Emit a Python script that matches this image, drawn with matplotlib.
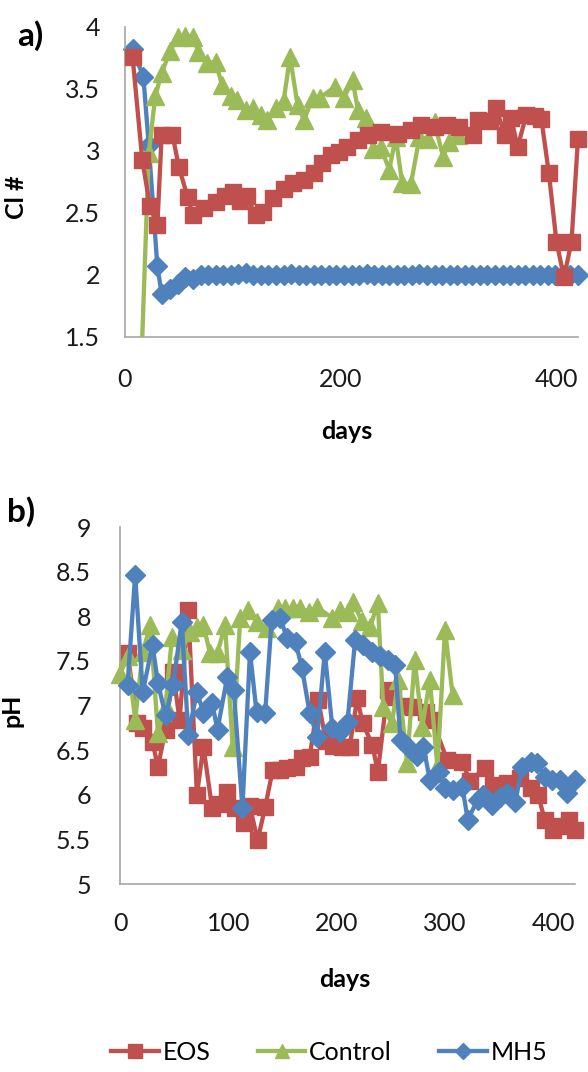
import matplotlib
matplotlib.use("Agg")
import matplotlib.pyplot as plt

plt.rcParams["font.family"] = ["Lato", "DejaVu Sans"]

# colours (Excel 2007 palette)
red = "#C0504D"
green = "#9BBB59"
blue = "#4F81BD"

# ---- panel a) Cl # ----
a_eos_days = [7, 16, 23, 30, 34, 44, 50, 58, 63, 73, 84, 93, 100, 107, 113, 121, 128, 137,
              147, 156, 166, 175, 183, 191, 198, 206, 216, 225, 237, 253, 265, 274, 287,
              299, 310, 323, 327, 338, 344, 352, 358, 364, 372, 380, 386, 393, 400, 407,
              414, 420]
a_eos_cl = [3.76, 2.93, 2.56, 2.40, 3.13, 3.13, 2.87, 2.63, 2.48, 2.54, 2.59, 2.64, 2.67,
            2.60, 2.64, 2.48, 2.51, 2.62, 2.69, 2.74, 2.77, 2.82, 2.90, 2.97, 2.99, 3.03,
            3.09, 3.13, 3.15, 3.14, 3.17, 3.21, 3.19, 3.21, 3.19, 3.13, 3.25, 3.24, 3.35,
            3.13, 3.27, 3.03, 3.29, 3.28, 3.26, 2.82, 2.27, 1.98, 2.27, 3.10]

a_ctrl_days = [14, 22, 28, 34, 42, 49, 56, 63, 68, 76, 84, 90, 98, 104, 112, 119, 126, 132,
               140, 147, 153, 160, 166, 174, 181, 195, 203, 211, 216, 223, 230, 237, 245,
               251, 257, 265, 273, 281, 287, 295, 300, 309]
a_ctrl_cl = [1.0, 2.98, 3.44, 3.63, 3.81, 3.92, 3.93, 3.92, 3.80, 3.71, 3.72, 3.53, 3.44,
             3.41, 3.33, 3.35, 3.29, 3.25, 3.35, 3.40, 3.76, 3.37, 3.25, 3.43, 3.43, 3.52,
             3.43, 3.57, 3.33, 3.27, 3.02, 3.03, 2.85, 3.11, 2.74, 2.73, 3.11, 3.10, 3.23,
             2.95, 3.07, 3.13]

a_mh5_days = [7, 17, 22, 30, 34, 42, 49, 56, 63, 70, 77, 84, 91, 98, 105, 112, 119, 126,
              133, 140, 147, 154, 161, 168, 175, 182, 189, 196, 203, 210, 217, 224, 231,
              238, 245, 252, 259, 266, 273, 280, 287, 294, 301, 308, 315, 322, 329, 336,
              343, 350, 357, 364, 371, 378, 385, 392, 399, 406, 413, 420]
a_mh5_cl = [3.82, 3.60, 3.05, 2.07, 1.85, 1.89, 1.93, 1.98, 1.97, 2.00, 2.00, 2.00, 2.00,
            2.00, 2.01, 2.02, 2.00, 2.00, 2.00, 2.00, 2.00, 2.01, 2.00, 2.00, 2.00, 2.00,
            2.00, 2.00, 2.00, 2.00, 2.00, 2.01, 2.00, 2.00, 2.00, 2.00, 2.00, 2.00, 2.01,
            2.00, 2.00, 2.00, 2.00, 2.00, 2.00, 2.00, 2.00, 2.00, 2.00, 2.00, 2.00, 2.00,
            2.00, 2.00, 2.00, 2.00, 2.00, 2.00, 2.00, 2.00]

# ---- panel b) pH ----
b_eos_days = [7, 16, 21, 30, 35, 42, 49, 55, 63, 71, 77, 85, 91, 99, 106, 114, 120, 127,
              134, 141, 148, 154, 162, 168, 175, 183, 190, 197, 205, 212, 219, 224, 233,
              238, 247, 252, 263, 270, 282, 288, 302, 316, 323, 337, 344, 357, 369, 379,
              386, 392, 400, 406, 414, 420]
b_eos_ph = [7.59, 6.80, 6.75, 6.59, 6.31, 6.73, 7.37, 6.84, 8.07, 6.00, 6.54, 5.85, 5.90,
            6.03, 5.85, 5.68, 5.87, 5.49, 5.86, 6.28, 6.28, 6.30, 6.31, 6.41, 6.42, 7.06,
            6.60, 6.55, 6.53, 6.54, 7.08, 6.80, 6.56, 6.25, 7.17, 7.10, 7.00, 6.98, 6.93,
            6.84, 6.39, 6.37, 6.15, 6.30, 6.11, 6.13, 6.19, 6.08, 6.00, 5.72, 5.61, 5.65,
            5.72, 5.61]

b_ctrl_days = [0, 7, 14, 21, 28, 35, 42, 48, 57, 65, 71, 77, 83, 90, 97, 104, 111, 118,
               126, 136, 146, 152, 160, 166, 174, 182, 196, 203, 210, 215, 223, 231, 238,
               243, 251, 257, 265, 272, 279, 286, 293, 300, 307]
b_ctrl_ph = [7.35, 7.55, 6.84, 7.60, 7.90, 6.69, 7.00, 7.77, 7.62, 7.82, 7.88, 7.90, 7.59,
             7.59, 7.90, 6.54, 7.98, 8.07, 7.94, 7.87, 8.09, 8.09, 8.09, 8.09, 8.05, 8.10,
             7.98, 8.07, 8.05, 8.16, 7.95, 7.88, 8.15, 6.98, 6.80, 7.29, 6.36, 7.51, 6.76,
             7.29, 6.31, 7.85, 7.12]

b_mh5_days = [7, 14, 21, 30, 35, 42, 49, 57, 63, 71, 77, 85, 90, 99, 105, 113, 120, 126,
              134, 140, 148, 154, 162, 168, 175, 182, 189, 196, 203, 210, 217, 224, 233,
              240, 247, 254, 259, 266, 274, 280, 286, 294, 300, 307, 316, 321, 330, 335,
              343, 351, 357, 365, 371, 379, 385, 392, 399, 406, 413, 420]
b_mh5_ph = [7.23, 8.46, 7.15, 7.68, 7.25, 6.89, 7.23, 7.94, 6.67, 7.15, 6.92, 7.03, 6.73,
            7.32, 7.17, 5.85, 7.60, 6.93, 6.92, 7.96, 7.98, 7.76, 7.71, 7.42, 6.92, 6.65,
            7.60, 6.75, 6.70, 6.82, 7.73, 7.68, 7.60, 7.55, 7.51, 7.45, 6.61, 6.53, 6.43,
            6.54, 6.17, 6.25, 6.08, 6.05, 6.09, 5.72, 5.94, 6.00, 5.89, 5.98, 6.02, 5.92,
            6.31, 6.37, 6.36, 6.20, 6.17, 6.17, 6.02, 6.17]

series_names = ["EOS", "Control", "MH5"]

fs = 18


def style_axis(ax, ylim, yticks, xticks, ylabel, ypad, xpad):
    ax.set_xlim(0, 420)
    ax.set_ylim(*ylim)
    ax.set_yticks(yticks)
    ax.set_yticklabels([("%g" % t) for t in yticks])
    ax.set_xticks(xticks)
    for side in ["top", "right"]:
        ax.spines[side].set_visible(False)
    for side in ["left", "bottom"]:
        ax.spines[side].set_color("#A6A6A6")
        ax.spines[side].set_linewidth(1.2)
    ax.tick_params(axis="y", length=0, pad=ypad, labelsize=fs, labelcolor="#1a1a1a")
    ax.tick_params(axis="x", length=0, pad=xpad, labelsize=fs, labelcolor="#1a1a1a")
    ax.set_ylabel(ylabel, fontsize=fs, fontweight="bold")
    ax.set_xlabel("days", fontsize=fs, fontweight="bold")


fig = plt.figure(figsize=(5.88, 10.72), dpi=100)

ax1 = fig.add_axes([125 / 588, 1 - 337 / 1072, 453 / 588, 310 / 1072])
ax2 = fig.add_axes([120 / 588, 1 - 884 / 1072, 455 / 588, 357 / 1072])

lw = 3.1
ms_s, ms_t, ms_d = 12, 13, 10
ax1.plot(a_ctrl_days, a_ctrl_cl, color=green, lw=lw, marker="^", ms=ms_t, zorder=3)
ax1.plot(a_eos_days, a_eos_cl, color=red, lw=lw, marker="s", ms=ms_s, zorder=4, clip_on=False)
ax1.plot(a_mh5_days, a_mh5_cl, color=blue, lw=lw, marker="D", ms=ms_d, zorder=2, clip_on=False)

ax2.plot(b_eos_days, b_eos_ph, color=red, lw=lw, marker="s", ms=ms_s, zorder=2, clip_on=False)
ax2.plot(b_ctrl_days, b_ctrl_ph, color=green, lw=lw, marker="^", ms=ms_t, zorder=3, clip_on=False)
ax2.plot(b_mh5_days, b_mh5_ph, color=blue, lw=lw, marker="D", ms=ms_d, zorder=4, clip_on=False)

style_axis(ax1, (1.5, 4), [1.5, 2, 2.5, 3, 3.5, 4], [0, 200, 400], "Cl #", 18, 22)
style_axis(ax2, (5, 9), [5, 5.5, 6, 6.5, 7, 7.5, 8, 8.5, 9], [0, 100, 200, 300, 400],
           "pH", 21, 20)

ax1.yaxis.set_label_coords(-0.214, 0.452)
ax1.xaxis.set_label_coords(0.49, -0.268)
ax2.yaxis.set_label_coords(-0.212, 0.487)
ax2.xaxis.set_label_coords(0.495, -0.235)

fig.text(30 / 588, 1 - 36 / 1072, "a)", fontsize=24, fontweight="bold", ha="center", va="center")
fig.text(21 / 588, 1 - 512 / 1072, "b)", fontsize=24, fontweight="bold", ha="center", va="center")

h_eos, = ax2.plot([], [], color=red, lw=lw, marker="s", ms=ms_s)
h_ctrl, = ax2.plot([], [], color=green, lw=lw, marker="^", ms=ms_t)
h_mh5, = ax2.plot([], [], color=blue, lw=lw, marker="D", ms=ms_d)
fig.legend([h_eos, h_ctrl, h_mh5], series_names, loc="center", ncol=3,
           bbox_to_anchor=(0.56, 1 - 1052 / 1072), frameon=False, fontsize=fs,
           handlelength=1.9, handletextpad=0.15, columnspacing=1.9, markerscale=0.8)

fig.savefig("out.png", dpi=100)
